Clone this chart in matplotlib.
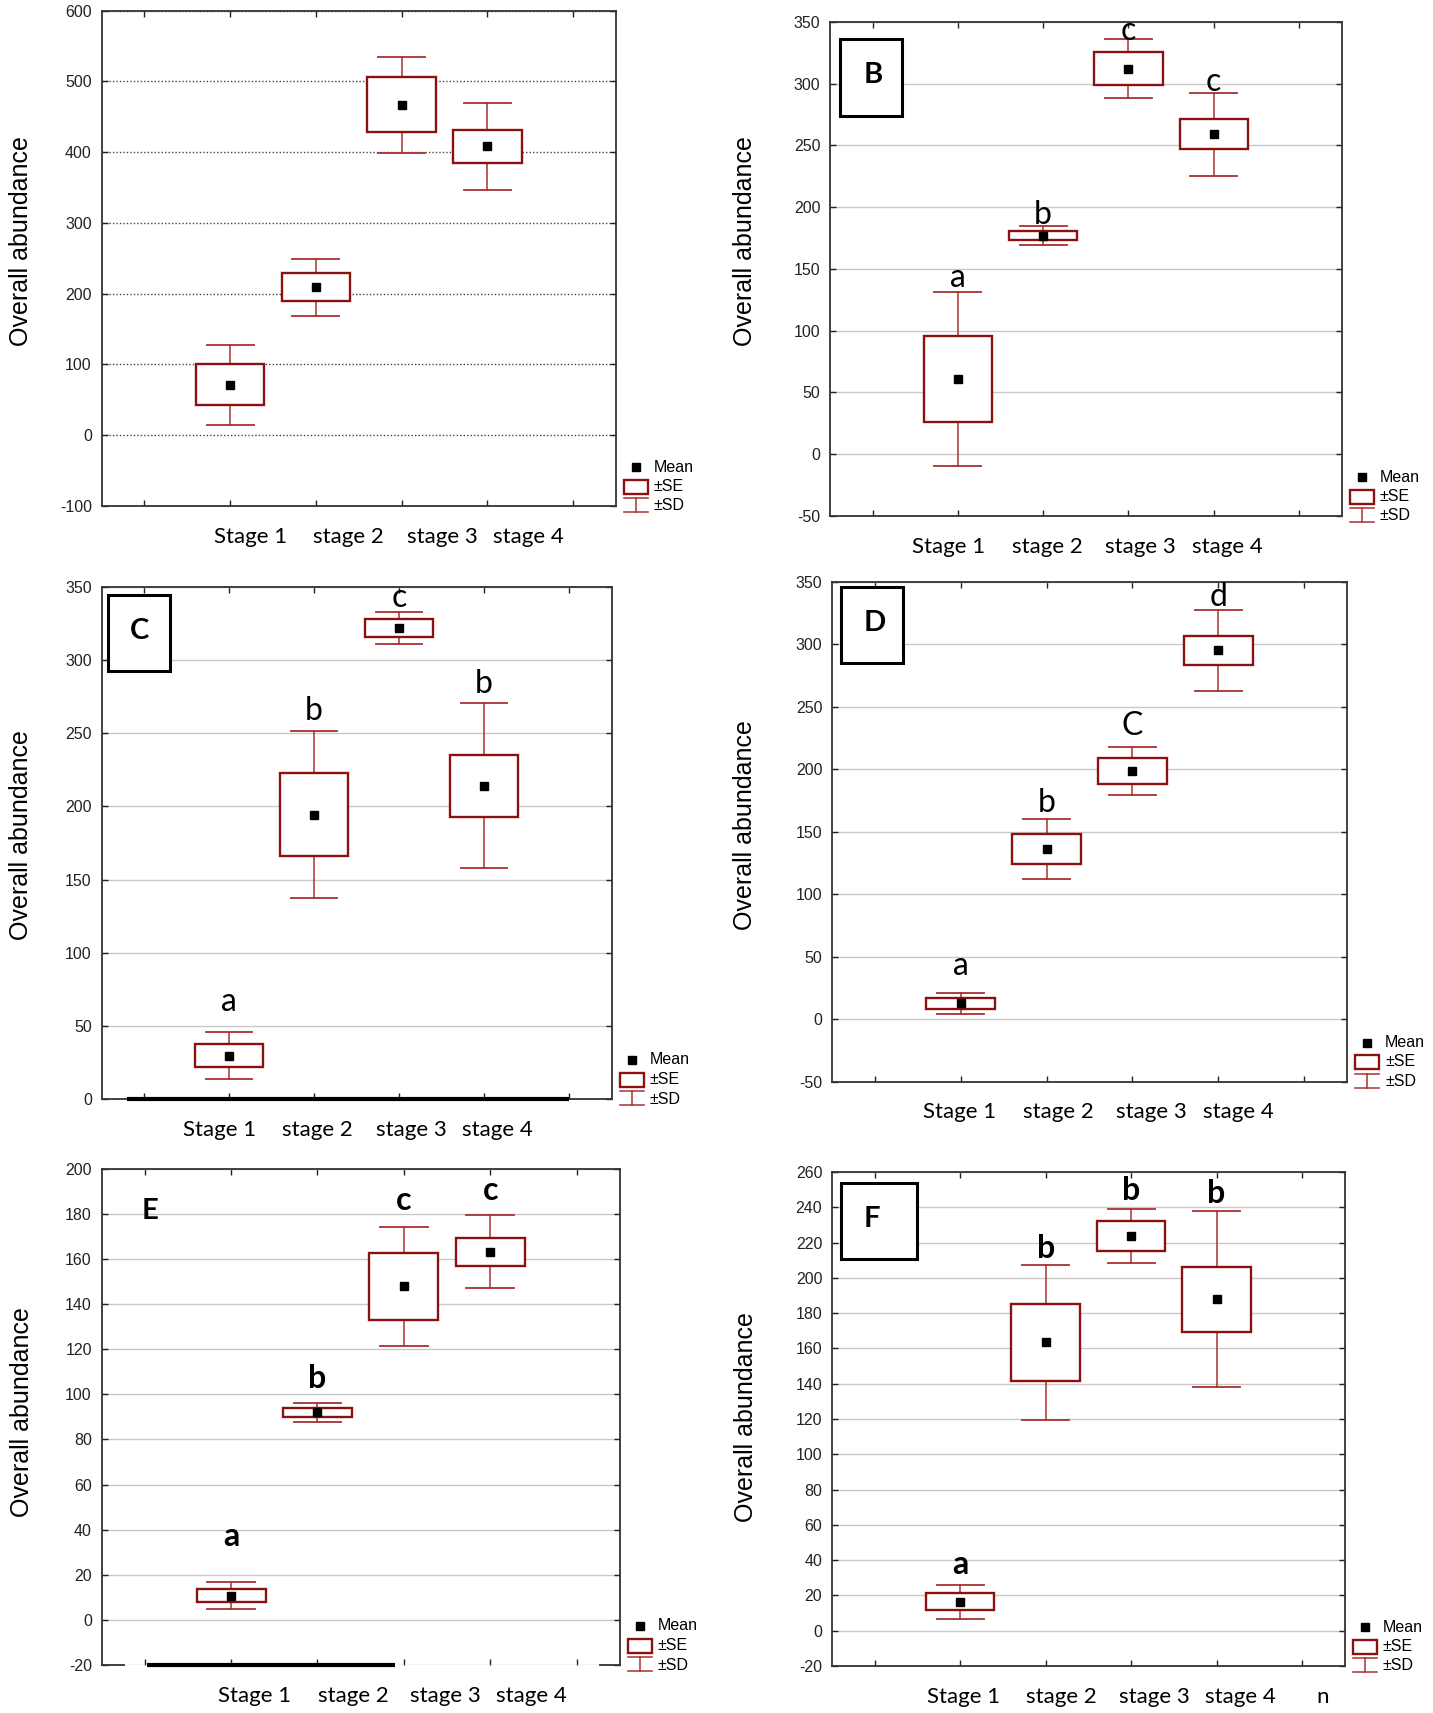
import numpy as np
import matplotlib
matplotlib.use('Agg')
import matplotlib.pyplot as plt
from matplotlib import font_manager
from matplotlib.patches import Rectangle
from matplotlib.lines import Line2D
from matplotlib.transforms import offset_copy

plt.rcParams['axes.unicode_minus'] = False

W, H = 1433, 1713

stages = ['Stage 1', 'stage 2', 'stage 3', 'stage 4']
pos = [1, 2, 3, 4]

# mean, standard error and standard deviation per stage
mean_A = [71, 209, 467, 408]
se_A = [29, 20, 39, 23]
sd_A = [57, 40, 68, 62]

mean_B = [61, 177, 312, 259]
se_B = [35, 3.7, 13.5, 12.3]
sd_B = [70.5, 8, 24, 33.5]
letters_B = ['a', 'b', 'c', 'c']

mean_C = [29.6, 194.4, 322.1, 214.1]
se_C = [7.8, 28.4, 6.2, 21.2]
sd_C = [16.2, 57, 11, 56.3]
letters_C = ['a', 'b', 'c', 'b']

mean_D = [12.6, 136.2, 198.8, 295.2]
se_D = [4.2, 12, 10.6, 11.8]
sd_D = [8.3, 24.2, 19, 32.4]
letters_D = ['a', 'b', 'C', 'd']

mean_E = [10.8, 92, 147.8, 163.2]
se_E = [2.8, 2.1, 15, 6.2]
sd_E = [5.8, 4.2, 26.3, 16.2]
letters_E = ['a', 'b', 'c', 'c']

mean_F = [16.3, 163.5, 223.9, 187.8]
se_F = [4.8, 21.7, 8.5, 18.4]
sd_F = [9.8, 43.9, 15.3, 49.9]
letters_F = ['a', 'b', 'b', 'b']

BOX = '#8b1111'
WHISK = '#a83030'
GRID = '#c8c8c8'


def pick_font(names):
    for n in names:
        try:
            font_manager.findfont(n, fallback_to_default=False)
            return n
        except Exception:
            pass
    return 'DejaVu Sans'


NARROW = pick_font(['Liberation Sans Narrow', 'Liberation Sans'])
ARIAL = pick_font(['Liberation Sans'])
CALI = pick_font(['Lato', 'Open Sans'])

fig = plt.figure(figsize=(W / 100, H / 100), dpi=100)


def fx(x):
    return x / W


def fy(y):
    return 1 - y / H


def make_axes(l, t, r, b):
    return fig.add_axes([fx(l), fy(b), (r - l) / W, (b - t) / H])


def draw_legend(r, b):
    fs = 11.5
    fig.add_artist(Line2D([fx(r + 20)], [fy(b - 39)], marker='s', ms=5.2,
                          color='black', lw=0, transform=fig.transFigure))
    fig.text(fx(r + 38), fy(b - 39), 'Mean', fontsize=fs, family=NARROW,
             va='center', ha='left')
    fig.add_artist(Rectangle((fx(r + 8), fy(b - 12.5)), 24 / W, 14 / H,
                             facecolor='white', edgecolor=BOX, lw=1.7,
                             transform=fig.transFigure))
    fig.text(fx(r + 38), fy(b - 19.5), '±SE', fontsize=fs, family=NARROW,
             va='center', ha='left')
    for yy in (b - 8, b + 6):
        fig.add_artist(Line2D([fx(r + 8), fx(r + 32)], [fy(yy), fy(yy)],
                              color=WHISK, lw=1.1, transform=fig.transFigure))
    fig.add_artist(Line2D([fx(r + 20), fx(r + 20)], [fy(b - 8), fy(b + 6)],
                          color=WHISK, lw=1.1, transform=fig.transFigure))
    fig.text(fx(r + 38), fy(b), '±SD', fontsize=fs, family=NARROW,
             va='center', ha='left')


def draw_panel(rect, mean, se, sd, ylim, ystep, label_x, ylab_xy,
               letters=None, letter_y=None, bold_letters=False,
               dotted=False, tag=None):
    l, t, r, b = rect
    ax = make_axes(l, t, r, b)
    ax.set_xlim(-0.5, 5.5)
    ax.set_ylim(*ylim)
    ax.set_xticks(range(6))
    ax.set_xticklabels([])
    ax.set_yticks(np.arange(ylim[0], ylim[1] + 1, ystep))
    ax.tick_params(direction='in', top=True, right=True, length=4,
                   width=1, labelsize=11.5, pad=7, colors='#222222')
    for lab in ax.get_yticklabels():
        lab.set_family(NARROW)
    for s in ax.spines.values():
        s.set_linewidth(1.3)
        s.set_color('#333333')
    if dotted:
        ax.yaxis.grid(True, linestyle=(0, (1, 1.5)), color='#444444', lw=1)
    else:
        ax.yaxis.grid(True, linestyle='-', color=GRID, lw=1)
    ax.set_axisbelow(True)

    bw, cap = 0.8, 0.55
    for x, m, s, d in zip(pos, mean, se, sd):
        ax.plot([x, x], [m - d, m + d], color=WHISK, lw=1.1, zorder=2)
        for yy in (m - d, m + d):
            ax.plot([x - cap / 2, x + cap / 2], [yy, yy], color=WHISK,
                    lw=1.3, zorder=2)
        ax.add_patch(Rectangle((x - bw / 2, m - s), bw, 2 * s,
                               facecolor='white', edgecolor=BOX, lw=1.7,
                               zorder=3))
        ax.plot(x, m, 's', color='black', ms=5.2, zorder=4)

    if letters is not None:
        for x, lt, yy in zip(pos, letters, letter_y):
            ax.text(x, yy, lt, ha='center', va='baseline', fontsize=23,
                    family=CALI, fontweight='bold' if bold_letters else 'normal',
                    zorder=5, clip_on=False)

    if tag is not None:
        txt, tx, ty, box = tag
        if box is not None:
            x0, x1, y0, y1 = box
            ax.add_patch(Rectangle((x0, y0), x1 - x0, y1 - y0,
                                   transform=ax.transAxes, facecolor='white',
                                   edgecolor='black', lw=2.2, zorder=6))
        ax.text(tx, ty, txt, transform=ax.transAxes, ha='center',
                va='center', fontsize=21, family=CALI, fontweight='bold',
                zorder=7)

    tr = offset_copy(ax.get_xaxis_transform(), fig=fig, y=-31, units='dots')
    for x, s in zip(label_x, stages):
        ax.text(x, 0, s, transform=tr, ha='center', va='center',
                fontsize=16, family=CALI, clip_on=False)

    fig.text(fx(ylab_xy[0]), fy(ylab_xy[1]), 'Overall abundance',
             rotation=90, ha='center', va='center', fontsize=18, family=ARIAL)
    draw_legend(r, b)
    return ax, tr


# A
draw_panel((101.5, 10.5, 616, 506), mean_A, se_A, sd_A, (-100, 600), 100,
           [1.24, 2.38, 3.47, 4.48], (21, 241), dotted=True)

# B
draw_panel((830, 21.8, 1341.6, 516), mean_B, se_B, sd_B, (-50, 350), 50,
           [0.89, 2.05, 3.14, 4.16], (745, 241), letters_B,
           [135, 186.5, 335.3, 294],
           tag=('B', 0.0846, 0.893, (0.0195, 0.141, 0.81, 0.9645)))

# C
axC, _ = draw_panel((101.5, 587, 611.5, 1099), mean_C, se_C, sd_C, (0, 350), 50,
                    [0.89, 2.04, 3.14, 4.16], (21, 835), letters_C,
                    [60.2, 259.4, 336.6, 277.3],
                    tag=('C', 0.075, 0.915, (0.0135, 0.134, 0.8365, 0.984)))
axC.plot([-0.2, 5.0], [0, 0], color='black', lw=3, solid_capstyle='butt',
         zorder=8, clip_on=False)

# D
draw_panel((832, 582, 1347, 1081.5), mean_D, se_D, sd_D, (-50, 350), 50,
           [0.99, 2.14, 3.22, 4.23], (745, 825), letters_D,
           [35.4, 165.6, 227.6, 331],
           tag=('D', 0.0825, 0.918, (0.0177, 0.1375, 0.8375, 0.9906)))

# E
axE, _ = draw_panel((101.5, 1168.7, 619.8, 1665), mean_E, se_E, sd_E, (-20, 200), 20,
                    [1.27, 2.41, 3.48, 4.48], (22, 1411.7), letters_E,
                    [32.7, 102.9, 181.8, 186.2], bold_letters=True,
                    tag=('E', 0.0936, 0.914, None))
axE.spines['bottom'].set_visible(False)
for x0, x1 in ((0, 0.043), (0.962, 1.0)):
    axE.plot([x0, x1], [0, 0], transform=axE.transAxes, color='#333333',
             lw=1.3, clip_on=False, zorder=8)
axE.plot([0.03, 2.9], [-20, -20], color='black', lw=3,
         solid_capstyle='butt', zorder=8, clip_on=False)

# F
axF, trF = draw_panel((832, 1172, 1344.8, 1666), mean_F, se_F, sd_F, (-20, 260), 20,
                      [1.04, 2.18, 3.27, 4.28], (746, 1416.8), letters_F,
                      [32.3, 211.4, 244, 242.6], bold_letters=True,
                      tag=('F', 0.0774, 0.904, (0.0177, 0.165, 0.823, 0.978)))
axF.text(5.24, 0, 'n', transform=trF, ha='center', va='center',
         fontsize=16, family=CALI, clip_on=False)

fig.savefig('out.png', dpi=100)
